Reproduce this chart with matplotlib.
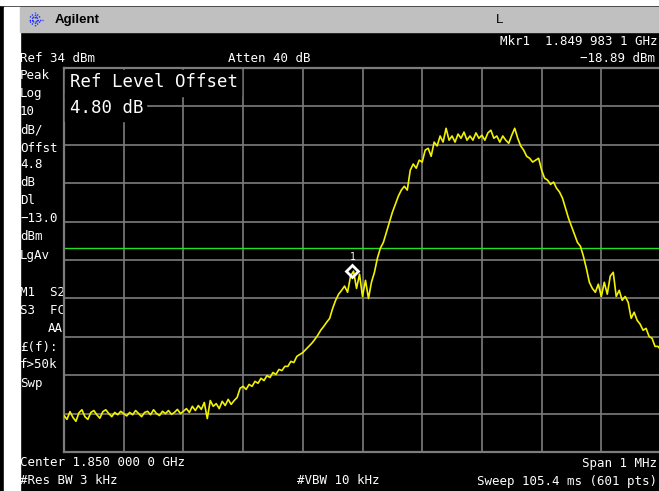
import numpy as np
import matplotlib
matplotlib.use("Agg")
import matplotlib.pyplot as plt
from matplotlib.patches import Rectangle

# ---- instrument settings -------------------------------------------------
ref_level_dbm = 34.0
db_per_div = 10.0
n_div = 10
display_line_dbm = -13.0
center_ghz = 1.850
span_mhz = 1.0

marker_freq_ghz = 1.8499831
marker_level_dbm = -18.89

# ---- trace (dBm), evenly spaced across the span --------------------------
trace_dbm = [
    # noise floor
    -56.5, -57.5, -55.5, -57.0, -58.0, -55.8, -55.0, -56.8, -57.5, -55.7,
    -55.2, -56.3, -57.2, -55.5, -55.0, -56.0, -56.8, -55.7, -56.3, -55.4,
    -56.0, -56.6, -55.7, -56.3, -55.2, -56.0, -56.8, -55.7, -55.4, -56.3,
    -55.0, -56.0, -56.5, -55.4, -56.0, -55.2, -56.2, -55.7, -54.9, -56.0,
    -55.4,
    -54.7, -55.7, -54.1, -55.2, -53.9, -54.9, -53.1, -57.3, -52.6, -54.1,
    -53.4, -54.7, -52.8, -53.9, -52.3, -53.6, -52.6, -51.8,
    # lower skirt
    -49.4, -48.9, -49.7, -48.4, -48.9, -47.6, -48.1, -46.8, -47.4, -46.1,
    -46.6, -45.3, -45.8, -44.5, -44.8, -43.7, -43.7, -42.4, -42.7, -41.1,
    -40.6,
    -40.1, -39.3, -38.5, -37.7, -36.7, -35.6, -34.3, -33.3, -32.2, -31.2,
    -28.6, -26.5, -24.9,
    -23.9, -22.8, -24.4, -20.2, -18.9, -23.4, -19.7, -25.5, -21.3, -26.0,
    -21.8,
    # rising edge
    -19.2, -15.5, -12.9, -11.4, -8.8, -6.2, -3.6, -1.5, 0.6, 2.2,
    3.2, 2.2, 7.4, 9.0, 7.9, 10.0, 9.5, 12.6, 13.1, 11.0,
    14.7, 13.7, 16.3, 14.7,
    # top of the channel
    18.3, 15.2, 16.3, 14.7, 16.8, 15.7, 17.3, 15.2, 16.3, 15.2,
    17.1, 15.7, 16.5, 15.2, 17.1, 17.8, 15.7, 16.3, 14.7, 16.3,
    15.2, 14.4, 16.5, 18.3, 15.7,
    # falling edge
    13.7, 12.6, 11.0, 10.5, 9.5, 10.0, 10.5, 7.4, 5.3, 4.8,
    3.7, 4.3, 2.7, 1.7, 0.1, -2.5, -5.1, -7.2, -9.3, -11.4,
    -12.4, -15.0, -18.2, -21.8,
    # upper skirt
    -23.4, -24.4, -22.3, -25.5, -21.8, -24.9, -20.2, -19.2, -25.5, -23.9,
    -26.5, -25.5, -27.0, -31.2, -29.6, -31.7, -32.7, -34.3, -33.8, -35.9,
    -36.4, -38.5, -38.5, -39.5,
]

left_labels = [
    ("Peak", 75), ("Log", 93), ("10", 111), ("dB/", 130), ("Offst", 148),
    ("4.8", 165), ("dB", 182), ("Dl", 201), ("\u221213.0", 218), ("dBm", 236),
    ("LgAv", 255), ("M1  S2", 292), ("S3  FC", 310), ("£(f):", 347),
    ("f>50k", 364), ("Swp", 383),
]

W, H = 659, 491
MONO = "DejaVu Sans Mono"
GRID = "#7c7c7c"
TRACE = "#f2f200"

fig = plt.figure(figsize=(W / 100, H / 100), dpi=100, facecolor="black")

# full-canvas axes in pixel units for the screen furniture
bg = fig.add_axes([0, 0, 1, 1], zorder=0)
bg.set_xlim(0, W)
bg.set_ylim(H, 0)
bg.axis("off")
bg.add_patch(Rectangle((0, 0), W, H, color="black"))
bg.add_patch(Rectangle((0, 0), W, 5, color="white"))
bg.add_patch(Rectangle((4, 7), 16, H, color="white"))
bg.add_patch(Rectangle((20, 7), W - 20, 25, color="#c0c0c0"))

# Agilent spark logo
cx, cy = 35, 19.5
for ang in np.arange(0, 360, 30):
    a = np.deg2rad(ang)
    r = 7.5 if ang % 90 == 0 else 6
    bg.plot([cx + 2 * np.cos(a), cx + r * np.cos(a)],
            [cy + 2 * np.sin(a), cy + r * np.sin(a)],
            color="#1a2cff", lw=1.0, ls=(0, (1, 0.8)), solid_capstyle="butt")
bg.text(55, 19.5, "Agilent", family="Liberation Sans", weight="bold",
        fontsize=9.5, color="black", va="center", ha="left")
bg.text(500, 19.5, "L", family="Liberation Sans", fontsize=9.5,
        color="black", va="center", ha="center")

small = dict(family=MONO, fontsize=9, color="white", va="center")
bg.text(657, 41, "Mkr1  1.849 983 1 GHz", ha="right", **small)
bg.text(20, 58, "Ref 34 dBm", ha="left", **small)
bg.text(228, 58, "Atten 40 dB", ha="left", **small)
bg.text(655, 58, "\u221218.89 dBm", ha="right", **small)
for txt, yy in left_labels:
    bg.text(20, yy, txt, ha="left", **small)
bg.text(63, 328, "AA", ha="right", **small)
bg.text(20, 463, "Center 1.850 000 0 GHz", ha="left", **small)
bg.text(657, 463, "Span 1 MHz", ha="right", **small)
bg.text(20, 481, "#Res BW 3 kHz", ha="left", **small)
bg.text(297, 481, "#VBW 10 kHz", ha="left", **small)
bg.text(657, 481, "Sweep 105.4 ms (601 pts)", ha="right", **small)

# ---- graticule and trace -------------------------------------------------
gx0, gx1, gy0, gy1 = 64, 661, 68, 452
ax = fig.add_axes([gx0 / W, (H - gy1) / H, (gx1 - gx0) / W, (gy1 - gy0) / H],
                  zorder=1)
ax.set_facecolor("black")
f_lo = center_ghz - span_mhz / 2000
f_hi = center_ghz + span_mhz / 2000
bottom = ref_level_dbm - n_div * db_per_div
ax.set_xlim(f_lo, f_hi)
ax.set_ylim(bottom, ref_level_dbm)
ax.set_xticks(np.linspace(f_lo, f_hi, n_div + 1))
ax.set_yticks(np.linspace(bottom, ref_level_dbm, n_div + 1))
ax.tick_params(length=0, labelbottom=False, labelleft=False)
ax.grid(True, color=GRID, lw=1.2)
ax.set_axisbelow(True)
for s in ax.spines.values():
    s.set_color(GRID)
    s.set_linewidth(1.6)

freq_ghz = center_ghz + np.linspace(-span_mhz / 2, span_mhz / 2,
                                    len(trace_dbm)) / 1000
ax.axhline(display_line_dbm, color="#22e022", lw=1.0, zorder=2)
ax.plot(freq_ghz, trace_dbm, color=TRACE, lw=1.2, zorder=4)

# reference-offset annotation on a black backing
ax.add_patch(Rectangle((65, 70), 176, 26, color="black",
                       transform=bg.transData, zorder=3, clip_on=False))
ax.add_patch(Rectangle((65, 95), 81, 26, color="black",
                       transform=bg.transData, zorder=3, clip_on=False))
ax.text(70, 82, "Ref Level Offset", transform=bg.transData, family=MONO,
        fontsize=12.5, color="white", va="center", ha="left", zorder=5)
ax.text(70, 108, "4.80 dB", transform=bg.transData, family=MONO,
        fontsize=12.5, color="white", va="center", ha="left", zorder=5)

# marker 1
ax.plot([marker_freq_ghz], [marker_level_dbm], marker="D", ms=6,
        mfc="none", mec="white", mew=2, zorder=6)
ax.annotate("1", (marker_freq_ghz, marker_level_dbm), xytext=(0, 10),
            textcoords="offset points", ha="center", va="center",
            family=MONO, fontsize=7, color="white", zorder=6)

fig.savefig("out.png", dpi=100, facecolor=fig.get_facecolor())
